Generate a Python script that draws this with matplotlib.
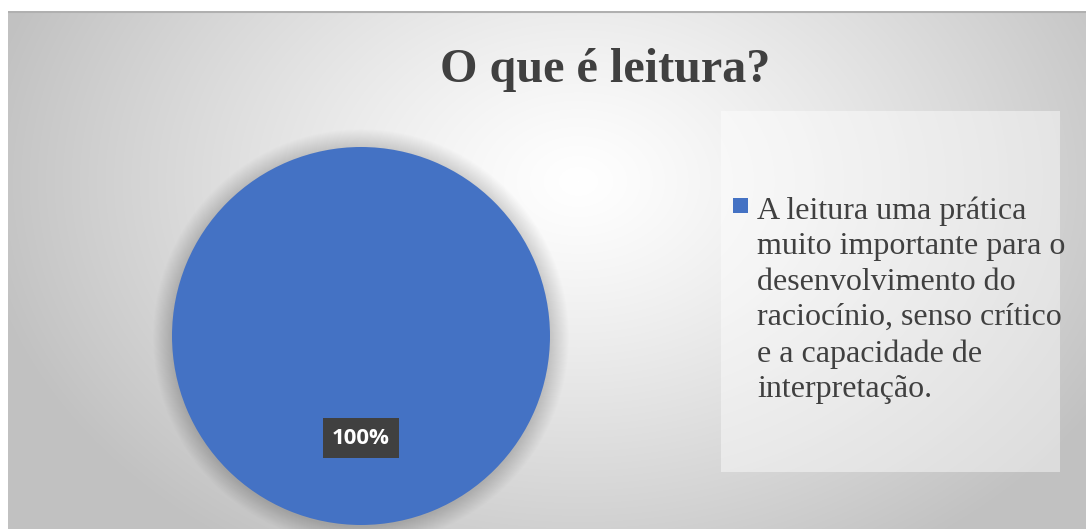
import numpy as np
import matplotlib
matplotlib.use("Agg")
import matplotlib.pyplot as plt
from matplotlib.patches import Rectangle, Circle

title = "O que é leitura?"
categories = ["A leitura uma prática\nmuito importante para o\ndesenvolvimento do\nraciocínio, senso crítico\ne a capacidade de\ninterpretação."]
values = [100]
colors = ["#4472C4"]

W, H = 1086, 529
fig = plt.figure(figsize=(W / 100, H / 100), dpi=100)
fig.patch.set_facecolor("white")

def px(x0, y0, x1, y1):
    # image pixel box -> figure fraction rect
    return [x0 / W, 1 - y1 / H, (x1 - x0) / W, (y1 - y0) / H]

# background gradient (chart area)
bg = fig.add_axes(px(8, 11, W, H), zorder=0)
bw, bh = W - 8, H - 11
yy, xx = np.mgrid[0:bh, 0:bw]
cx, cy = 570, 170
r = np.sqrt(((xx - cx) / 600) ** 2 + ((yy - cy) / 440) ** 2)
r = np.clip(r, 0, 1)
v = 1.0 - 0.24 * r ** 1.2
img = np.dstack([v, v, v])
bg.imshow(img, aspect="auto", extent=[0, bw, bh, 0], interpolation="bilinear")
bg.set_xlim(0, bw)
bg.set_ylim(bh, 0)
bg.axis("off")
# top border line
bg.plot([0, bw], [0.5, 0.5], color="#b0b0b0", lw=1.5)
# legend box
bg.add_patch(Rectangle((721 - 8, 111 - 11), 1060 - 721, 472 - 111,
                       facecolor="white", alpha=0.45, edgecolor="none"))

# pie
R = 189
pcx, pcy = 361, 336
ax = fig.add_axes(px(pcx - R - 30, pcy - R - 30, pcx + R + 30, pcy + R + 30), zorder=2)
lim = (R + 30) / R
# soft shadow around the pie
for k in range(20):
    ax.add_patch(Circle((0, -0.006), 1.0 + 0.005 * (k + 1), facecolor="black",
                        alpha=0.008, edgecolor="none", zorder=0))
wedges, texts, autotexts = ax.pie(
    values, colors=colors, startangle=90, counterclock=False,
    autopct="%1.0f%%", pctdistance=0.54, radius=1,
    wedgeprops=dict(edgecolor="none"),
    textprops=dict(color="white", fontsize=16, fontweight="bold", family="Open Sans"),
)
for t in autotexts:
    t.set_bbox(dict(boxstyle="square,pad=0.42", facecolor="#404040", edgecolor="none"))
ax.set_xlim(-lim, lim)
ax.set_ylim(-lim, lim)
ax.set_aspect("equal")
ax.axis("off")

# title
fig.text(605 / W, 1 - 82 / H, title, ha="center", va="baseline",
         fontsize=34.7, fontweight="bold", family="Liberation Serif", color="#404040")

# legend (manual)
fig.patches.append(Rectangle((733 / W, 1 - 213 / H), 15 / W, 15 / H,
                             transform=fig.transFigure, facecolor=wedges[0].get_facecolor(),
                             edgecolor="none", figure=fig))
fig.text(757 / W, 1 - 196 / H, categories[0], ha="left", va="top",
         fontsize=23, family="Liberation Serif", color="#404040", linespacing=1.3)

fig.savefig("out.png", dpi=100)
